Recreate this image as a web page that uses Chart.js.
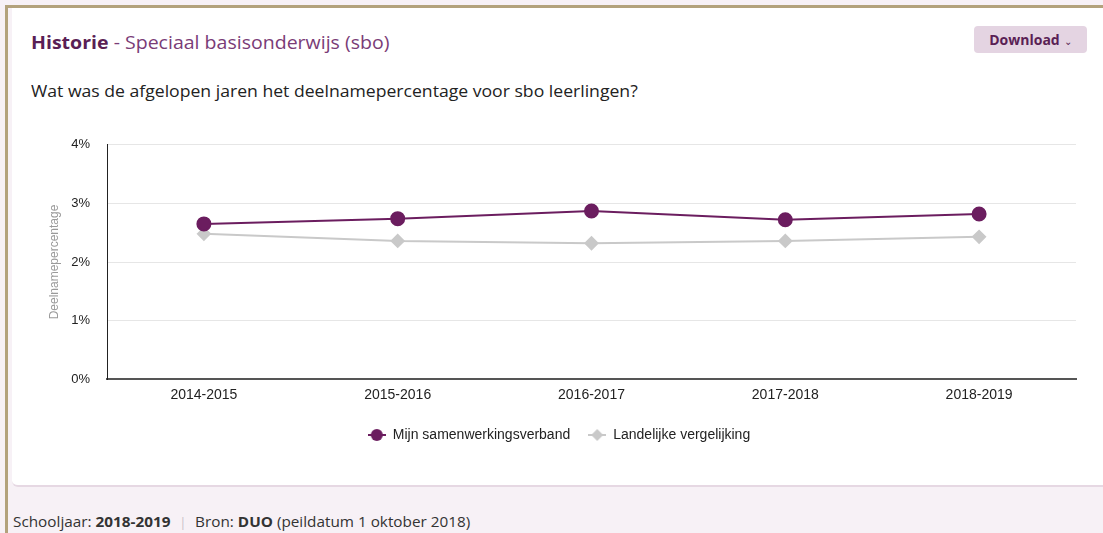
<!DOCTYPE html>
<html>
<head>
<meta charset="utf-8">
<script src="https://cdn.jsdelivr.net/npm/chart.js@4"></script>
<style>
  html, body { margin: 0; padding: 0; width: 1103px; height: 533px; overflow: hidden; background: #f7f1f6; font-family: "Open Sans", Lato, sans-serif; }
  #frame { position: absolute; left: 5px; top: 5px; width: 1110px; height: 540px; border-left: 3px solid #b3a27c; border-top: 3px solid #b3a27c; background: #f7f1f6; }
  #card { position: absolute; left: 12px; top: 8px; width: 1100px; height: 477px; background: #fff; border-bottom: 2px solid #e6d8e3; border-bottom-left-radius: 6px; }
  #title { position: absolute; left: 31px; top: 30px; font-size: 18px; color: #7a3c77; white-space: nowrap; transform: scaleX(1.085); transform-origin: 0 50%; }
  #title b { color: #5a1f55; }
  #question { position: absolute; left: 31px; top: 79px; font-size: 16.5px; color: #222; white-space: nowrap; transform: scaleX(1.067); transform-origin: 0 50%; }
  #download { position: absolute; left: 974px; top: 26px; width: 113px; height: 27px; background: #e4d4e2; border-radius: 4px; color: #5a1f55; font-weight: bold; font-size: 14px; line-height: 27px; text-align: center; }
  #download span { font-weight: normal; font-size: 10px; margin-left: 4px; }
  #footer { position: absolute; left: 13px; top: 512px; font-size: 14px; color: #333; white-space: nowrap; transform: scaleX(1.093); transform-origin: 0 50%; }
  #footer .sep { color: #c8c0c8; margin: 0 8px; font-size: 12px; }
  #chartwrap { position: absolute; left: 0; top: 120px; width: 1103px; height: 332px; }
</style>
</head>
<body>
<div id="frame"></div>
<div id="card"></div>
<div id="title"><b>Historie</b> - Speciaal basisonderwijs (sbo)</div>
<div id="download">Download<span>&#8964;</span></div>
<div id="question">Wat was de afgelopen jaren het deelnamepercentage voor sbo leerlingen?</div>
<div id="footer">Schooljaar: <b>2018-2019</b><span class="sep">|</span>Bron: <b>DUO</b> (peildatum 1 oktober 2018)</div>
<div id="chartwrap"><canvas id="c" width="1103" height="332"></canvas></div>
<script>
const categories = ["2014-2015", "2015-2016", "2016-2017", "2017-2018", "2018-2019"];
const mijnSamenwerkingsverband = [2.65, 2.74, 2.87, 2.72, 2.82];
const landelijkeVergelijking = [2.48, 2.36, 2.32, 2.36, 2.43];
const yTicks = [0, 1, 2, 3, 4];

const PURPLE = "#6b1d5f";
const GREY = "#c9c9c9";
const FONT = "'Liberation Sans', Arial, sans-serif";

function legendIcon(color, style) {
  const cv = document.createElement("canvas");
  cv.width = 18; cv.height = 14;
  const g = cv.getContext("2d");
  g.strokeStyle = color; g.lineWidth = 2;
  g.beginPath(); g.moveTo(0, 7); g.lineTo(18, 7); g.stroke();
  g.fillStyle = color;
  g.beginPath();
  if (style === "circle") { g.arc(9, 7, 6, 0, Math.PI * 2); }
  else { g.moveTo(9, 1); g.lineTo(15, 7); g.lineTo(9, 13); g.lineTo(3, 7); g.closePath(); }
  g.fill();
  return cv;
}

new Chart(document.getElementById("c"), {
  type: "line",
  data: {
    labels: categories,
    datasets: [
      { label: "Mijn samenwerkingsverband", data: mijnSamenwerkingsverband, borderColor: PURPLE, backgroundColor: PURPLE,
        borderWidth: 2, pointStyle: "circle", pointRadius: 6.5, pointHoverRadius: 7, tension: 0, order: 1 },
      { label: "Landelijke vergelijking", data: landelijkeVergelijking, borderColor: GREY, backgroundColor: GREY,
        borderWidth: 2, pointStyle: "rectRot", pointRadius: 6, pointHoverRadius: 7, tension: 0, order: 2 }
    ]
  },
  options: {
    responsive: false,
    animation: false,
    layout: { padding: { left: 42, right: 27, top: 18, bottom: 0 } },
    plugins: {
      tooltip: { enabled: false },
      legend: {
        position: "bottom",
        labels: {
          usePointStyle: true,
          pointStyleWidth: 18,
          padding: 18,
          color: "#222",
          font: { family: FONT, size: 14 },
          generateLabels(chart) {
            return chart.data.datasets.map((ds, i) => ({
              text: ds.label,
              fillStyle: ds.backgroundColor,
              strokeStyle: ds.borderColor,
              lineWidth: 0,
              pointStyle: legendIcon(ds.borderColor, i === 0 ? "circle" : "diamond"),
              hidden: false,
              datasetIndex: i,
              fontColor: "#222"
            }));
          }
        }
      }
    },
    scales: {
      x: {
        offset: true,
        grid: { display: false, drawTicks: false },
        border: { display: true, color: "#555", width: 2 },
        ticks: { color: "#222", padding: 8, font: { family: FONT, size: 14 } },
        afterFit(scale) { scale.height -= 2; }
      },
      y: {
        min: 0, max: 4,
        afterBuildTicks(scale) { scale.ticks = yTicks.map(v => ({ value: v })); },
        grid: { color: "#e6e6e6", drawTicks: false },
        border: { display: true, color: "#222", width: 1 },
        ticks: { color: "#222", padding: 17, callback: v => v + "%", font: { family: FONT, size: 13 } },
        title: { display: true, text: "Deelnamepercentage", color: "#9a9a9a", font: { family: FONT, size: 12 }, padding: { top: 5, bottom: 4 } },
        afterFit(scale) { scale.width = 107 - 42; }
      }
    }
  }
});
</script>
</body>
</html>
